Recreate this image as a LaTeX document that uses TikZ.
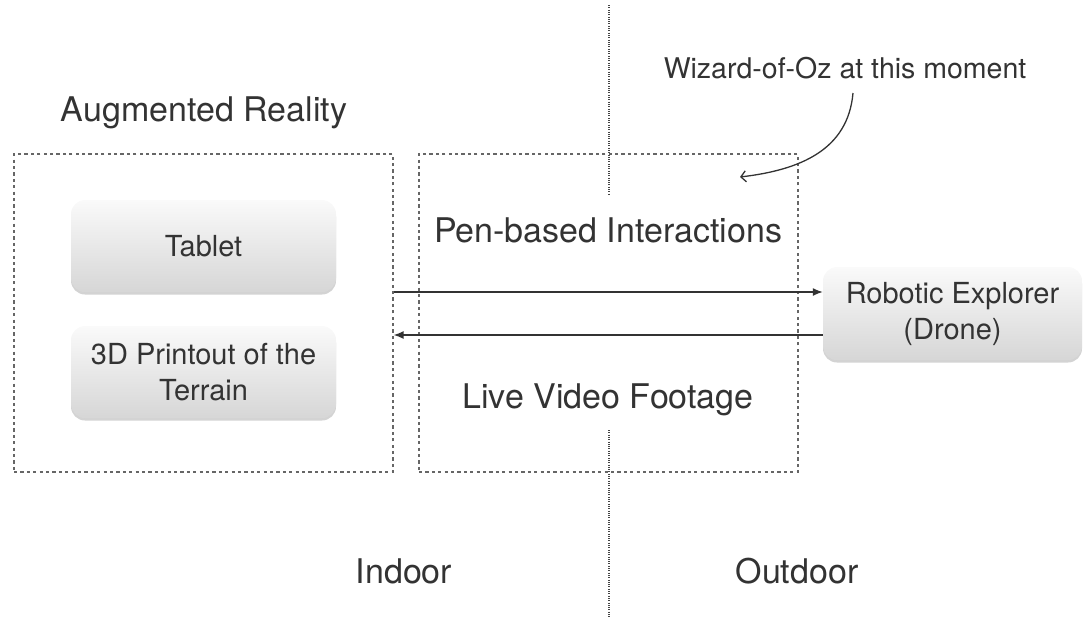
\documentclass[tikz,border=0pt]{standalone}
\usepackage{fontspec}
\setmainfont{TeX Gyre Heros}
\usetikzlibrary{arrows.meta,shadows}
\definecolor{ink}{HTML}{333333}
\definecolor{frame}{HTML}{666666}
\definecolor{dots}{HTML}{444444}
\begin{document}
\begin{tikzpicture}[x=1pt,y=-1pt,
  every node/.style={text=ink},
  biglabel/.style={font=\fontsize{34}{40}\selectfont},
  smalllabel/.style={font=\fontsize{28.5}{34}\selectfont},
  zone/.style={draw=frame,dash pattern=on 3.2pt off 3.2pt,line width=1.3pt,inner sep=0pt},
  device/.style={rounded corners=14pt,top color=gray!4,bottom color=gray!32,draw=none,
    drop shadow={shadow xshift=0pt,shadow yshift=-2.5pt,opacity=0.35},
    align=center,inner sep=0pt,font=\fontsize{29}{36}\selectfont},
  divider/.style={draw=dots,dash pattern=on 1pt off 1.3pt,line width=1.4pt},
  link/.style={draw=ink,line width=1.4pt,-{Latex[length=10pt,width=8pt]}},
  hint/.style={draw=ink,line width=1.3pt,-{Straight Barb[length=5pt,width=11pt]}}
]
\useasboundingbox (0,0) rectangle (1083,622);

% dashed zones
\node[zone,minimum width=379pt,minimum height=318pt] (ar) at (203.5,313) {};
\node[zone,minimum width=379pt,minimum height=318pt] (link zone) at (608.5,313) {};

% indoor / outdoor divider
\coordinate (d1) at (609,5);
\coordinate (d2) at (609,195);
\coordinate (d3) at (609,430);
\coordinate (d4) at (609,618);
\draw[divider] (d1) -- (d2);
\draw[divider] (d3) -- (d4);

% devices
\node[device,minimum width=265pt,minimum height=92pt] (tablet) at (203.5,246) {Tablet};
\node[device,minimum width=265pt,minimum height=92pt] (print) at (203.5,372) {3D Printout of the\\Terrain};
\node[device,minimum width=259pt,minimum height=93pt] (robot) at (952.5,313.5) {Robotic Explorer\\(Drone)};

% labels
\node[biglabel] (arlabel) at (204,113) {Augmented Reality};
\node[biglabel] (pen) at (608,230) {Pen-based Interactions};
\node[biglabel] (live) at (608,400) {Live Video Footage};
\node[biglabel] (indoor) at (404,571) {Indoor};
\node[biglabel] (outdoor) at (797,571) {Outdoor};
\node[smalllabel] (woz) at (845,68) {Wizard-of-Oz at this moment};

% data flow (yshift is measured upwards on the canvas)
\draw[link] ([yshift=21pt]ar.east) -- ([yshift=21.5pt]robot.west);
\draw[link] ([yshift=-21.5pt]robot.west) -- ([yshift=-22pt]ar.east);

% annotation arrow
\coordinate (w1) at (853,93);
\coordinate (w2) at (740,177);
\draw[hint] (w1) .. controls (848,150) and (800,170) .. (w2);
\end{tikzpicture}
\end{document}
